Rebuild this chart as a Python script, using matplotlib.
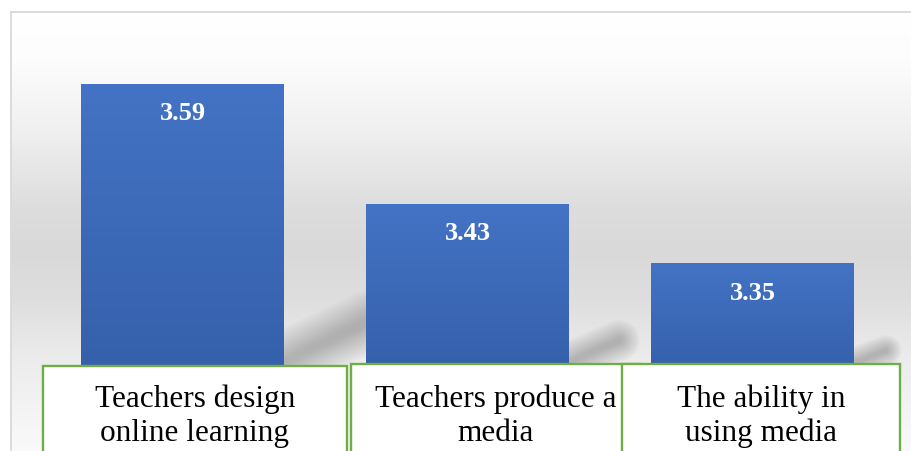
import numpy as np
import matplotlib
matplotlib.use("Agg")
import matplotlib.pyplot as plt
from matplotlib.colors import LinearSegmentedColormap
from matplotlib.patches import Rectangle

# data
categories = ["Teachers design\nonline learning",
              "Teachers produce a\nmedia",
              "The ability in\nusing media"]
scores = [3.59, 3.43, 3.35]
value_labels = ["3.59", "3.43", "3.35"]

W, H = 912, 452
fig = plt.figure(figsize=(W / 100, H / 100), dpi=100)
fig.patch.set_facecolor("white")

# plot area (frame) in pixels: left 11, top 13, runs off right / bottom
ax = fig.add_axes([11 / W, -2 / H, (915 - 11) / W, (452 + 2 - 13) / H])
YMIN, YMAX = 3.0970, 3.6870
XMIN, XMAX = -0.6018, 2.570

# background gradient (white at top, grey middle, lighter at the floor)
ys_px = np.array([13, 60, 130, 210, 250, 300, 360, 454])
grey = np.array([255, 253, 240, 221, 217, 222, 236, 250]) / 255
rows = np.linspace(13, 454, 400)
g = np.interp(rows, ys_px, grey)
bg = np.stack([g, g, g], axis=-1)[:, None, :].repeat(2, axis=1)
ax.imshow(bg, extent=(XMIN, XMAX, YMIN, YMAX), aspect="auto",
          zorder=0, interpolation="bilinear")

x = np.arange(len(scores))
width = 0.712
floor = 3.21

# soft shadows behind each bar
for xi, v in zip(x, scores):
    h = v - floor
    xr = xi + width / 2
    x0, y0 = xr - 0.05, floor + 0.0
    x1, y1 = xr + 0.8 * h, floor + 0.17 * h
    lw_max = 90 * h + 10
    for k in range(18):
        lw = lw_max * (1 - k / 19)
        ax.plot([x0, x1], [y0, y1], color="#606060", alpha=0.024, lw=lw,
                solid_capstyle="round", zorder=1)

# bars with vertical gradient
bars = ax.bar(x, scores, width=width, color="#4472c4", zorder=2)
bar_cmap = LinearSegmentedColormap.from_list("bar", ["#3560ab", "#4473c5"])
for b, v in zip(bars, scores):
    x_left = b.get_x()
    t = np.linspace(0, 1, 200)[:, None]
    vals = YMIN + t * (v - YMIN)
    grad = np.clip((vals - floor) / (v - floor), 0, 1)
    ax.imshow(grad[::-1], cmap=bar_cmap, vmin=0, vmax=1, aspect="auto",
              extent=(x_left, x_left + width, YMIN, v), zorder=3,
              interpolation="bilinear")

for xi, v, lab in zip(x, scores, value_labels):
    ax.text(xi, v - 0.038, lab, ha="center", va="center", color="white",
            fontsize=19, fontweight="bold", family="Liberation Serif", zorder=4)

ax.set_xlim(XMIN, XMAX)
ax.set_ylim(YMIN, YMAX)
ax.set_xticks([])
ax.set_yticks([])
for s in ax.spines.values():
    s.set_color("#d9d9d9")
    s.set_linewidth(1.3)

# category label boxes (green outline) along the bottom
boxes = [(43, 347, 367), (351, 640, 365), (622, 900, 365)]
for (bx0, bx1, by), cat in zip(boxes, categories):
    r = Rectangle((bx0 / W, (H - 470) / H), (bx1 - bx0) / W, (470 - by) / H,
                  transform=fig.transFigure, facecolor="white",
                  edgecolor="#70ad47", linewidth=1.7, zorder=5)
    fig.add_artist(r)
    fig.text((bx0 + bx1) / 2 / W, (H - 416) / H, cat, ha="center", va="center",
             fontsize=22.5, family="Liberation Serif", color="black",
             linespacing=1.22, zorder=6)

fig.savefig("out.png", dpi=100)
